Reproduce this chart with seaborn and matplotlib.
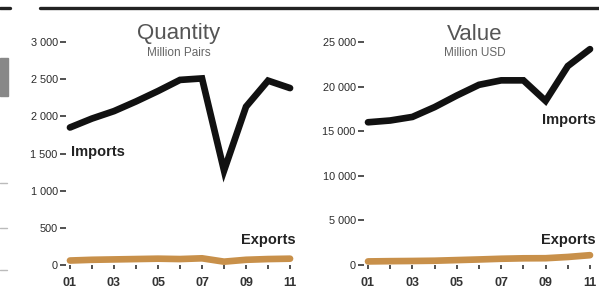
import matplotlib
matplotlib.use('Agg')
import matplotlib.pyplot as plt
import seaborn as sns
import pandas as pd
from matplotlib.lines import Line2D
from matplotlib.patches import Rectangle

# data
years = [2001, 2002, 2003, 2004, 2005, 2006, 2007, 2008, 2009, 2010, 2011]
qty_imports = [1850, 1970, 2070, 2200, 2340, 2490, 2510, 1270, 2130, 2480, 2380]
qty_exports = [60, 70, 75, 80, 85, 80, 90, 45, 70, 80, 85]
val_imports = [16000, 16200, 16600, 17700, 19000, 20200, 20700, 20700, 18400, 22300, 24200]
val_exports = [400, 430, 450, 480, 550, 620, 700, 750, 760, 900, 1100]
year_labels = ['01', '', '03', '', '05', '', '07', '', '09', '', '11']

sns.set_style('white')
plt.rcParams['font.family'] = ['Liberation Sans', 'DejaVu Sans']

imp_color = '#111111'
exp_color = '#c8904a'

fig = plt.figure(figsize=(5.99, 2.90), dpi=100)
W, H = 599, 290


def px_axes(x0, x1, y_top, y_bot):
    return fig.add_axes([x0 / W, 1 - y_bot / H, (x1 - x0) / W, (y_bot - y_top) / H])


ax1 = px_axes(66, 296, 42, 265)
ax2 = px_axes(364, 596, 42, 265)

panels = [
    (ax1, qty_imports, qty_exports, [0, 500, 1000, 1500, 2000, 2500, 3000], 3000,
     ['0', '500', '1 000', '1 500', '2 000', '2 500', '3 000']),
    (ax2, val_imports, val_exports, [0, 5000, 10000, 15000, 20000, 25000], 25000,
     ['0', '5 000', '10 000', '15 000', '20 000', '25 000']),
]

for ax, imp, exp, yt, ymax, ylabs in panels:
    df = pd.DataFrame({'year': years, 'Imports': imp, 'Exports': exp})
    sns.lineplot(data=df, x='year', y='Exports', ax=ax, color=exp_color,
                 linewidth=4.8, clip_on=False, solid_capstyle='round', zorder=2)
    sns.lineplot(data=df, x='year', y='Imports', ax=ax, color=imp_color,
                 linewidth=4.8, clip_on=False, solid_joinstyle='miter', zorder=3)
    ax.set_xlim(2000.82, 2011.27)
    ax.set_ylim(0, ymax)
    ax.set_yticks(yt)
    ax.set_yticklabels(ylabs)
    ax.set_xticks(years)
    ax.set_xticklabels(year_labels)
    ax.set_xlabel('')
    ax.set_ylabel('')
    for s in ax.spines.values():
        s.set_visible(False)
    ax.tick_params(axis='y', length=4, width=1.2, color='#333333', pad=2,
                   labelsize=7.8, labelcolor='#2a2a2a', left=True)
    ax.tick_params(axis='x', length=3, width=1.2, color='#333333', pad=6,
                   labelsize=9, labelcolor='#333333', bottom=True)
    for lab in ax.get_xticklabels():
        lab.set_fontweight('bold')
    ax.patch.set_alpha(0)

# titles
fig.text(179 / W, 1 - 34 / H, 'Quantity', ha='center', va='center', fontsize=16, color='#555555')
fig.text(179 / W, 1 - 53 / H, 'Million Pairs', ha='center', va='center', fontsize=8.5, color='#666666')
fig.text(475 / W, 1 - 34 / H, 'Value', ha='center', va='center', fontsize=16, color='#555555')
fig.text(475 / W, 1 - 53 / H, 'Million USD', ha='center', va='center', fontsize=8.5, color='#666666')

# series labels
lab_kw = dict(fontsize=10.5, fontweight='bold', color='#222222')
ax1.text(2001.05, 1520, 'Imports', ha='left', va='center', **lab_kw)
ax1.text(2011.25, 340, 'Exports', ha='right', va='center', **lab_kw)
ax2.text(2011.25, 16250, 'Imports', ha='right', va='center', **lab_kw)
ax2.text(2011.25, 2800, 'Exports', ha='right', va='center', **lab_kw)

# top rule and edge marks
fig.add_artist(Line2D([40 / W, 1], [1 - 8 / H, 1 - 8 / H], color='#222222', linewidth=2.4))
fig.add_artist(Line2D([0, 10 / W], [1 - 8 / H, 1 - 8 / H], color='#222222', linewidth=2.4))
fig.add_artist(Rectangle((0, 1 - 96 / H), 8 / W, 38 / H, color='#888888', transform=fig.transFigure))
for yy in [183, 228, 270]:
    fig.add_artist(Line2D([0, 7 / W], [1 - yy / H, 1 - yy / H], color='#bbbbbb', linewidth=1))

fig.savefig('out.png', dpi=100)
